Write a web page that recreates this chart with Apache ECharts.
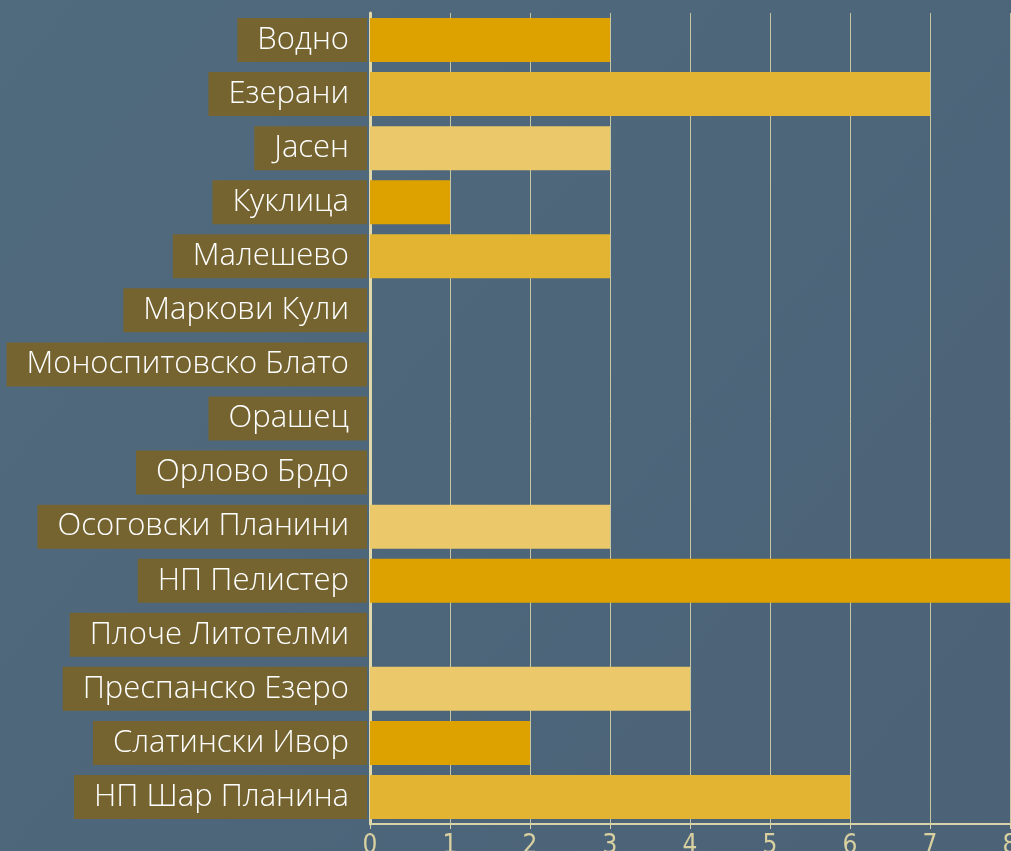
<!DOCTYPE html>
<html>
<head>
<meta charset="utf-8">
<script src="https://cdn.jsdelivr.net/npm/echarts@6/dist/echarts.min.js"></script>
<style>
  html, body { margin: 0; padding: 0; }
  #main { width: 1011px; height: 851px; }
</style>
</head>
<body>
<div id="main"></div>
<script>
// places and counts
var places = [
    'Водно', 'Езерани', 'Јасен', 'Куклица', 'Малешево',
    'Маркови Кули', 'Моноспитовско Блато', 'Орашец', 'Орлово Брдо',
    'Осоговски Планини', 'НП Пелистер', 'Плоче Литотелми',
    'Преспанско Езеро', 'Слатински Ивор', 'НП Шар Планина'
];
var counts = [3, 7, 3, 1, 3, 0, 0, 0, 0, 3, 8, 0, 4, 2, 6];
var barColors = [
    '#dea200', '#e3b432', '#ebc869', '#dea200', '#e3b432',
    '#ebc869', '#dea200', '#e3b432', '#ebc869',
    '#ebc869', '#dea200', '#e3b432',
    '#ebc869', '#dea200', '#e3b432'
];
var ticks = [0, 1, 2, 3, 4, 5, 6, 7, 8];

var myChart = echarts.init(document.getElementById('main'));
var option = {
    backgroundColor: {
        type: 'linear', x: 0, y: 0, x2: 1, y2: 1,
        colorStops: [
            { offset: 0, color: '#506a7e' },
            { offset: 1, color: '#4b6277' }
        ]
    },
    grid: {
        left: 370,
        right: 1,
        top: 13,
        bottom: 27,
        outerBoundsMode: 'none'
    },
    xAxis: {
        type: 'value',
        min: ticks[0],
        max: ticks[ticks.length - 1],
        interval: 1,
        axisLine: {
            show: true,
            lineStyle: { color: '#d9d3a8', width: 2 }
        },
        axisTick: {
            show: true,
            length: 5,
            lineStyle: { color: '#d9d3a8', width: 1 }
        },
        splitLine: {
            show: true,
            lineStyle: { color: '#c8c6a2', width: 1 }
        },
        axisLabel: {
            color: '#d9d0a0',
            fontFamily: 'DejaVu Sans Condensed, Liberation Sans Narrow, sans-serif',
            fontSize: 26,
            margin: 9
        }
    },
    yAxis: {
        type: 'category',
        data: places,
        inverse: true,
        axisLine: {
            show: true,
            lineStyle: { color: '#e0d8a8', width: 3 }
        },
        axisTick: { show: false },
        axisLabel: {
            color: '#ffffff',
            fontFamily: 'Open Sans, Lato, sans-serif',
            fontWeight: 300,
            fontSize: 31,
            backgroundColor: '#756430',
            lineHeight: 44,
            padding: [0, 18, 0, 20],
            margin: 3
        }
    },
    series: [{
        type: 'bar',
        barWidth: 44,
        data: counts.map(function (v, i) {
            return { value: v, itemStyle: { color: barColors[i] } };
        })
    }]
};
myChart.setOption(option);
</script>
</body>
</html>
